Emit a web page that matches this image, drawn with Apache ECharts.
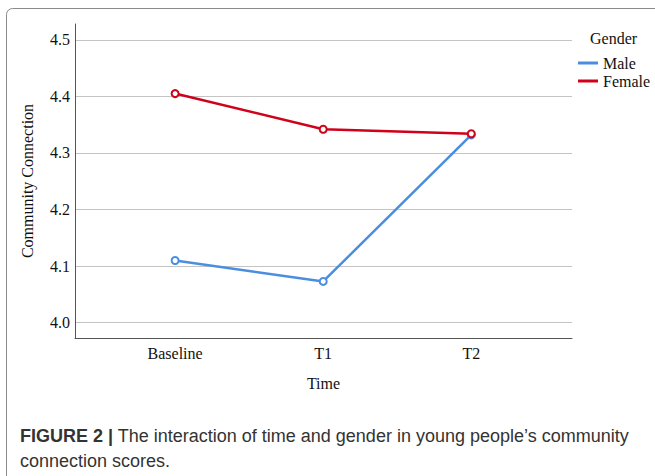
<!DOCTYPE html>
<html>
<head>
<meta charset="utf-8">
<script src="https://cdn.jsdelivr.net/npm/echarts@6/dist/echarts.min.js"></script>
<style>
html,body{margin:0;padding:0;background:#fff;}
#chart{width:655px;height:476px;}
</style>
</head>
<body>
<div id="chart"></div>
<script>
var categories = ['Baseline', 'T1', 'T2'];
var maleValues = [4.110, 4.073, 4.332];
var femaleValues = [4.405, 4.342, 4.334];
var yTickValues = [4.0, 4.1, 4.2, 4.3, 4.4, 4.5];

function toPoints(vals) {
  return vals.map(function (v, i) { return [i, v]; });
}

var serif = '"Liberation Serif", "DejaVu Serif", serif';
var chart = echarts.init(document.getElementById('chart'), null, {renderer: 'svg'});
chart.setOption({
  animation: false,
  backgroundColor: '#fff',
  title: {
    text: 'Gender',
    left: 585,
    top: 25,
    textStyle: {fontFamily: serif, fontSize: 16, fontWeight: 'normal', color: '#111'}
  },
  legend: {
    orient: 'vertical',
    left: 573,
    top: 50,
    itemWidth: 20,
    itemHeight: 3,
    itemGap: 2,
    icon: 'rect',
    data: ['Male', 'Female'],
    textStyle: {fontFamily: serif, fontSize: 16, color: '#111'}
  },
  grid: {left: 75, right: 83, top: 24, bottom: 138, containLabel: false},
  xAxis: {
    type: 'value',
    min: -0.676,
    max: 2.68,
    name: 'Time',
    nameLocation: 'middle',
    nameGap: 37,
    nameTextStyle: {fontFamily: serif, fontSize: 16, color: '#111'},
    axisLine: {show: true, onZero: false, lineStyle: {color: '#555', width: 1}},
    axisTick: {show: false, customValues: [0, 1, 2]},
    splitLine: {show: false},
    axisLabel: {
      customValues: [0, 1, 2],
      margin: 7,
      fontFamily: serif, fontSize: 16, color: '#111',
      formatter: function (v) { return categories[Math.round(v)]; }
    }
  },
  yAxis: {
    type: 'value',
    min: 3.973,
    max: 4.528,
    name: 'Community Connection',
    nameLocation: 'middle',
    nameGap: 40,
    nameTextStyle: {fontFamily: serif, fontSize: 16, color: '#111'},
    axisLine: {show: true, onZero: false, lineStyle: {color: '#555', width: 1}},
    axisTick: {show: false, customValues: yTickValues},
    splitLine: {show: true, lineStyle: {color: '#c4c4c4', width: 1}},
    axisLabel: {
      customValues: yTickValues,
      margin: 5,
      fontFamily: serif, fontSize: 16, color: '#111',
      formatter: function (v) { return v.toFixed(1); }
    }
  },
  series: [
    {
      name: 'Male',
      type: 'line',
      data: toPoints(maleValues),
      symbol: 'emptyCircle',
      symbolSize: 7,
      color: '#4a8fdf',
      lineStyle: {width: 2.5, color: '#4a8fdf'},
      itemStyle: {color: '#4a8fdf', borderWidth: 1},
      z: 3
    },
    {
      name: 'Female',
      type: 'line',
      data: toPoints(femaleValues),
      symbol: 'emptyCircle',
      symbolSize: 7,
      color: '#d0021b',
      lineStyle: {width: 2.5, color: '#d0021b'},
      itemStyle: {color: '#d0021b', borderWidth: 1},
      z: 4
    }
  ],
  graphic: [
    {
      type: 'rect',
      shape: {x: 6.5, y: 8.5, width: 720, height: 520, r: 6},
      style: {fill: 'none', stroke: '#8a8a8a', lineWidth: 1},
      silent: true
    },
    {
      type: 'text',
      left: 20,
      top: 423,
      style: {
        text: '{b|FIGURE 2 |} The interaction of time and gender in young people\u2019s community\nconnection scores.',
        fontFamily: '"Liberation Sans", Arial, sans-serif',
        fontSize: 18,
        lineHeight: 25,
        fill: '#333',
        rich: {
          b: {fontWeight: 'bold', fontFamily: '"Liberation Sans", Arial, sans-serif', fontSize: 18, fill: '#333'}
        }
      }
    }
  ]
});
</script>
</body>
</html>
